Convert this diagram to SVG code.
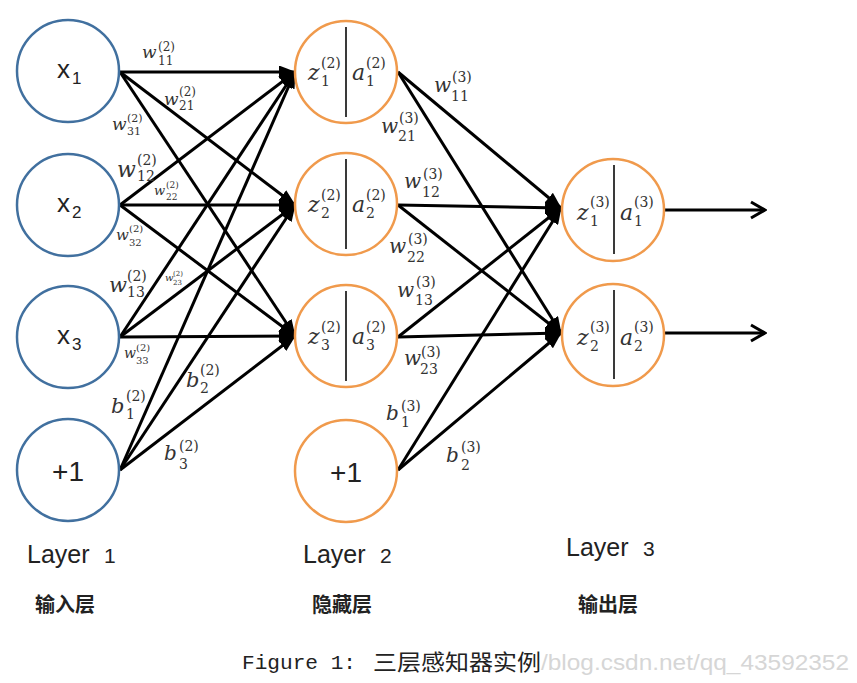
<svg xmlns="http://www.w3.org/2000/svg" width="857" height="683" viewBox="0 0 857 683">
<style>
.in{fill:#fff;stroke:#41709f;stroke-width:2.5}
.hd{fill:#fff;stroke:#f09a4c;stroke-width:2.5}
.dv{stroke:#3a3a3a;stroke-width:2}
.e{stroke:#000;stroke-width:3;fill:none;marker-end:url(#ah)}
.o{stroke:#000;stroke-width:3;fill:none;marker-end:url(#oa)}
.sn{font-family:"Liberation Sans","DejaVu Sans",sans-serif;fill:#222}
.m{font-family:"DejaVu Serif","Liberation Serif",serif;font-style:italic;fill:#333}
.s{font-family:"DejaVu Serif","Liberation Serif",serif;fill:#333}
.cn{font-family:"Noto Sans CJK SC",sans-serif;font-weight:bold;fill:#222;font-size:20px;text-anchor:middle}
</style>
<defs>
<marker id="ah" viewBox="0 0 17 13" refX="16" refY="6.5" markerWidth="17" markerHeight="13" markerUnits="userSpaceOnUse" orient="auto">
<path d="M0,0 L17,6.5 L0,13 z" fill="#000"/>
</marker>
<marker id="oa" viewBox="0 0 18 20" refX="16" refY="10" markerWidth="18" markerHeight="20" markerUnits="userSpaceOnUse" orient="auto">
<path d="M2,2 L16,10 L2,18" fill="none" stroke="#000" stroke-width="3"/>
</marker>
</defs>
<rect width="857" height="683" fill="#fff"/>

<g id="connectors">
<line class="e" x1="120" y1="72" x2="295" y2="72"/>
<line class="e" x1="120" y1="72" x2="295" y2="205"/>
<line class="e" x1="120" y1="72" x2="295" y2="336"/>
<line class="e" x1="120" y1="205" x2="295" y2="72"/>
<line class="e" x1="120" y1="205" x2="295" y2="205"/>
<line class="e" x1="120" y1="205" x2="295" y2="336"/>
<line class="e" x1="120" y1="337" x2="295" y2="72"/>
<line class="e" x1="120" y1="337" x2="295" y2="205"/>
<line class="e" x1="120" y1="337" x2="295" y2="336"/>
<line class="e" x1="120" y1="470" x2="295" y2="72"/>
<line class="e" x1="120" y1="470" x2="295" y2="205"/>
<line class="e" x1="120" y1="470" x2="295" y2="336"/>
<line class="e" x1="398" y1="72" x2="561" y2="208"/>
<line class="e" x1="398" y1="72" x2="561" y2="333"/>
<line class="e" x1="398" y1="205" x2="561" y2="208"/>
<line class="e" x1="398" y1="205" x2="561" y2="333"/>
<line class="e" x1="398" y1="337" x2="561" y2="208"/>
<line class="e" x1="398" y1="337" x2="561" y2="333"/>
<line class="e" x1="398" y1="470" x2="561" y2="208"/>
<line class="e" x1="398" y1="470" x2="561" y2="333"/>
<line class="o" x1="665" y1="210" x2="765" y2="210"/>
<line class="o" x1="665" y1="333" x2="765" y2="333"/>
</g>

<g id="edge-labels">
<g><text class="m" x="142" y="58" font-size="17">w</text><text class="s" x="158" y="51" font-size="12">(2)</text><text class="s" x="158" y="65" font-size="12">11</text></g>
<g><text class="m" x="164" y="105" font-size="17">w</text><text class="s" x="179" y="96" font-size="12">(2)</text><text class="s" x="179" y="110" font-size="12">21</text></g>
<g><text class="m" x="112" y="130" font-size="17">w</text><text class="s" x="127" y="122" font-size="11">(2)</text><text class="s" x="127" y="135" font-size="11">31</text></g>
<g><text class="m" x="117" y="177" font-size="22">w</text><text class="s" x="137" y="165" font-size="14">(2)</text><text class="s" x="137" y="181" font-size="14">12</text></g>
<g><text class="m" x="154" y="195" font-size="13">w</text><text class="s" x="166" y="188" font-size="9">(2)</text><text class="s" x="166" y="200" font-size="9">22</text></g>
<g><text class="m" x="116" y="240" font-size="15">w</text><text class="s" x="129" y="232" font-size="10">(2)</text><text class="s" x="129" y="246" font-size="10">32</text></g>
<g><text class="m" x="109" y="292" font-size="21">w</text><text class="s" x="127" y="281" font-size="14">(2)</text><text class="s" x="127" y="297" font-size="14">13</text></g>
<g><text class="m" x="165" y="281" font-size="10">w</text><text class="s" x="173" y="276" font-size="7">(2)</text><text class="s" x="173" y="285" font-size="7">23</text></g>
<g><text class="m" x="124" y="358" font-size="14">w</text><text class="s" x="136" y="351" font-size="10">(2)</text><text class="s" x="136" y="364" font-size="10">33</text></g>
<g><text class="m" x="111" y="413" font-size="21">b</text><text class="s" x="126" y="401" font-size="14">(2)</text><text class="s" x="126" y="419" font-size="14">1</text></g>
<g><text class="m" x="186" y="387" font-size="21">b</text><text class="s" x="200" y="375" font-size="14">(2)</text><text class="s" x="200" y="393" font-size="14">2</text></g>
<g><text class="m" x="164" y="460" font-size="20">b</text><text class="s" x="179" y="451" font-size="14">(2)</text><text class="s" x="179" y="469" font-size="14">3</text></g>
<g><text class="m" x="434" y="92" font-size="20">w</text><text class="s" x="452" y="82" font-size="14">(3)</text><text class="s" x="451" y="101" font-size="14">11</text></g>
<g><text class="m" x="381" y="133" font-size="20">w</text><text class="s" x="399" y="123" font-size="14">(3)</text><text class="s" x="398" y="141" font-size="14">21</text></g>
<g><text class="m" x="404" y="188" font-size="20">w</text><text class="s" x="423" y="179" font-size="14">(3)</text><text class="s" x="422" y="197" font-size="14">12</text></g>
<g><text class="m" x="389" y="253" font-size="20">w</text><text class="s" x="408" y="244" font-size="14">(3)</text><text class="s" x="407" y="262" font-size="14">22</text></g>
<g><text class="m" x="397" y="297" font-size="20">w</text><text class="s" x="416" y="287" font-size="14">(3)</text><text class="s" x="415" y="305" font-size="14">13</text></g>
<g><text class="m" x="404" y="365" font-size="20">w</text><text class="s" x="421" y="357" font-size="14">(3)</text><text class="s" x="420" y="374" font-size="14">23</text></g>
<g><text class="m" x="386" y="420" font-size="20">b</text><text class="s" x="401" y="411" font-size="14">(3)</text><text class="s" x="401" y="427" font-size="14">1</text></g>
<g><text class="m" x="446" y="462" font-size="20">b</text><text class="s" x="461" y="452" font-size="14">(3)</text><text class="s" x="461" y="470" font-size="14">2</text></g>
</g>

<g id="x1"><circle class="in" cx="68" cy="71" r="51"/><text class="sn" x="57" y="78" font-size="26">x</text><text class="sn" x="72" y="84" font-size="17">1</text></g>
<g id="x2"><circle class="in" cx="68" cy="205" r="51"/><text class="sn" x="57" y="212" font-size="26">x</text><text class="sn" x="72" y="218" font-size="17">2</text></g>
<g id="x3"><circle class="in" cx="68" cy="337" r="51"/><text class="sn" x="57" y="344" font-size="26">x</text><text class="sn" x="72" y="350" font-size="17">3</text></g>
<g id="b1"><circle class="in" cx="68" cy="470" r="51"/><text class="sn" x="68" y="481" font-size="28" text-anchor="middle">+1</text></g>

<g id="h1"><circle class="hd" cx="346" cy="72" r="51"/><line class="dv" x1="346" y1="27" x2="346" y2="117"/>
<text class="m" x="308" y="80" font-size="22">z</text><text class="s" x="321" y="68" font-size="14">(2)</text><text class="s" x="321" y="86" font-size="14">1</text>
<text class="m" x="352" y="80" font-size="22">a</text><text class="s" x="366" y="68" font-size="14">(2)</text><text class="s" x="366" y="86" font-size="14">1</text></g>
<g id="h2"><circle class="hd" cx="346" cy="204" r="51"/><line class="dv" x1="346" y1="159" x2="346" y2="249"/>
<text class="m" x="308" y="212" font-size="22">z</text><text class="s" x="321" y="200" font-size="14">(2)</text><text class="s" x="321" y="218" font-size="14">2</text>
<text class="m" x="352" y="212" font-size="22">a</text><text class="s" x="366" y="200" font-size="14">(2)</text><text class="s" x="366" y="218" font-size="14">2</text></g>
<g id="h3"><circle class="hd" cx="346" cy="336" r="51"/><line class="dv" x1="346" y1="291" x2="346" y2="381"/>
<text class="m" x="308" y="344" font-size="22">z</text><text class="s" x="321" y="332" font-size="14">(2)</text><text class="s" x="321" y="350" font-size="14">3</text>
<text class="m" x="352" y="344" font-size="22">a</text><text class="s" x="366" y="332" font-size="14">(2)</text><text class="s" x="366" y="350" font-size="14">3</text></g>
<g id="b2"><circle class="hd" cx="346" cy="471" r="51"/><text class="sn" x="346" y="482" font-size="28" text-anchor="middle">+1</text></g>

<g id="o1"><circle class="hd" cx="613" cy="210" r="51"/><line class="dv" x1="614" y1="165" x2="614" y2="254"/>
<text class="m" x="577" y="220" font-size="22">z</text><text class="s" x="590" y="207" font-size="14">(3)</text><text class="s" x="590" y="226" font-size="14">1</text>
<text class="m" x="620" y="220" font-size="22">a</text><text class="s" x="634" y="207" font-size="14">(3)</text><text class="s" x="634" y="226" font-size="14">1</text></g>
<g id="o2"><circle class="hd" cx="613" cy="335" r="51"/><line class="dv" x1="614" y1="290" x2="614" y2="379"/>
<text class="m" x="577" y="345" font-size="22">z</text><text class="s" x="590" y="332" font-size="14">(3)</text><text class="s" x="590" y="351" font-size="14">2</text>
<text class="m" x="620" y="345" font-size="22">a</text><text class="s" x="634" y="332" font-size="14">(3)</text><text class="s" x="634" y="351" font-size="14">2</text></g>

<g id="layer-labels">
<text class="sn" x="27" y="563" font-size="25">Layer</text><text class="sn" x="104" y="563" font-size="21">1</text>
<text class="sn" x="303" y="563" font-size="25">Layer</text><text class="sn" x="380" y="563" font-size="21">2</text>
<text class="sn" x="566" y="556" font-size="25">Layer</text><text class="sn" x="643" y="556" font-size="21">3</text>
<text class="cn" x="65" y="612">输入层</text>
<text class="cn" x="342" y="612">隐藏层</text>
<text class="cn" x="608" y="612">输出层</text>
</g>

<g id="caption">
<text x="541" y="670" font-family="Liberation Sans,sans-serif" font-size="22" fill="#d6d6d6" textLength="308" lengthAdjust="spacingAndGlyphs">/blog.csdn.net/qq_43592352</text>
<text x="242" y="669" font-family="Liberation Mono,monospace" font-size="20" fill="#222" textLength="114" lengthAdjust="spacingAndGlyphs">Figure 1:</text>
<text x="373" y="670" font-family="Noto Sans CJK SC,sans-serif" font-size="22" fill="#222" textLength="168" lengthAdjust="spacingAndGlyphs">三层感知器实例</text>
</g>
</svg>
